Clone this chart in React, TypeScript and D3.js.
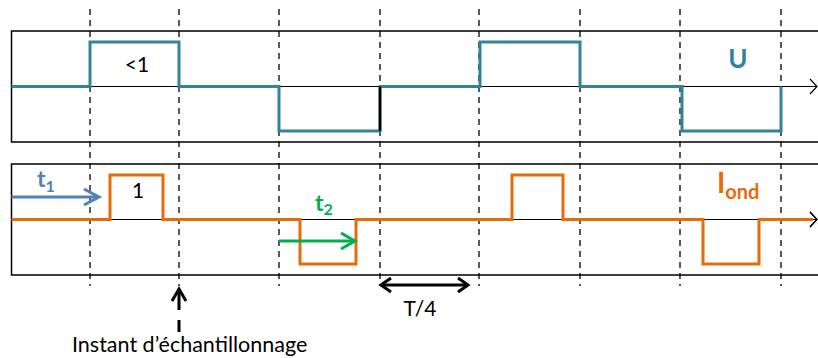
import React from "react";
import * as d3 from "d3";

// time in quarter-period-ish units (x = 100 px per unit)
const sampleTimes = [0.9, 1.79, 2.79, 3.8, 4.79, 5.8, 6.8, 7.81];

const uSteps = [
  { t: 0.115, v: 0 }, { t: 0.9, v: 1 }, { t: 1.79, v: 0 }, { t: 2.79, v: -1 },
  { t: 3.8, v: 0 }, { t: 4.8, v: 1 }, { t: 5.8, v: 0 }, { t: 6.82, v: -1 }, { t: 7.81, v: 0 },
];

const iSteps = [
  { t: 0.115, v: 0 }, { t: 1.1, v: 1 }, { t: 1.63, v: 0 }, { t: 3.0, v: -1 },
  { t: 3.56, v: 0 }, { t: 5.12, v: 1 }, { t: 5.63, v: 0 }, { t: 7.03, v: -1 },
  { t: 7.59, v: 0 }, { t: 8.13, v: 0 },
];

const t1Span = [0.115, 0.99];
const t2Span = [2.79, 3.55];
const quarterSpan = [3.81, 4.68];

const W = 818;
const H = 358;
const TEAL = "#31849b";
const ORANGE = "#e46c0a";
const BLUE = "#4f81bd";
const GREEN = "#00b050";
const FONT = "Lato, 'Open Sans', sans-serif";

const x = d3.scaleLinear().domain([0, 8.18]).range([0, W]);
const yTop = d3.scaleLinear().domain([-1.25, 1.25]).range([142, 31]);
const yBot = d3.scaleLinear().domain([-1.25, 1.25]).range([275, 164]);

const stepLine = (y: d3.ScaleLinear<number, number>) =>
  d3.line<{ t: number; v: number }>().x(d => x(d.t)).y(d => y(d.v)).curve(d3.curveStepAfter);

const chevron = (tipX: number, tipY: number, dx: number, dy: number) =>
  `M${tipX - dx},${tipY - dy}L${tipX},${tipY}L${tipX - dx},${tipY + dy}`;

const Panel = ({ y }: { y: d3.ScaleLinear<number, number> }) => {
  const x0 = x(0.115);
  return (
    <g>
      <path d={`M${W},${y(1.25)}H${x0}V${y(-1.25)}H${W}`} fill="none" stroke="#000" strokeWidth={1.5} />
      <line x1={x0} x2={W - 1} y1={y(0)} y2={y(0)} stroke="#000" strokeWidth={1} />
      <path d={chevron(W - 1, y(0), 7, 7.5)} fill="none" stroke="#000" strokeWidth={1.2} />
    </g>
  );
};

export default function App() {
  return (
    <svg width={W} height={H} style={{ position: "absolute", left: 0, top: 0, background: "#fff" }}>
      <Panel y={yTop} />
      <Panel y={yBot} />

      {sampleTimes.map(t => (
        <line key={t} x1={x(t)} x2={x(t)} y1={9} y2={286} stroke="#000" strokeWidth={1.3} strokeDasharray="6,5" />
      ))}

      <path d={stepLine(yTop)(uSteps) ?? ""} fill="none" stroke={TEAL} strokeWidth={3} />
      <line x1={x(3.8)} x2={x(3.8)} y1={yTop(0)} y2={yTop(-1)} stroke="#000" strokeWidth={2.5} />
      <path d={stepLine(yBot)(iSteps) ?? ""} fill="none" stroke={ORANGE} strokeWidth={3} />
      <path d={chevron(W - 1, yBot(0), 7, 7.5)} fill="none" stroke="#000" strokeWidth={1.2} />

      <text x={137} y={72} textAnchor="middle" fontFamily={FONT} fontSize={21}>&lt;1</text>
      <text x={138} y={198} textAnchor="middle" fontFamily={FONT} fontSize={21}>1</text>
      <text x={738} y={68} textAnchor="middle" fontFamily={FONT} fontSize={26} fontWeight="bold" fill={TEAL}>U</text>
      <text x={717} y={193} fontFamily={FONT} fontWeight="bold" fill={ORANGE}>
        <tspan fontSize={28}>I</tspan>
        <tspan fontSize={20} dy={6}>ond</tspan>
      </text>

      {/* t1 */}
      <line x1={x(t1Span[0])} x2={x(t1Span[1]) - 1} y1={197} y2={197} stroke={BLUE} strokeWidth={3} />
      <path d={chevron(x(t1Span[1]), 197, 15, 8)} fill="none" stroke={BLUE} strokeWidth={3} />
      <text x={37} y={187} fontFamily={FONT} fontWeight="bold" fill={BLUE}>
        <tspan fontSize={23}>t</tspan>
        <tspan fontSize={16} dy={5}>1</tspan>
      </text>

      {/* t2 */}
      <line x1={x(t2Span[0])} x2={x(t2Span[1]) - 1} y1={241} y2={241} stroke={GREEN} strokeWidth={3} />
      <path d={chevron(x(t2Span[1]), 241, 14, 8)} fill="none" stroke={GREEN} strokeWidth={3} />
      <text x={315} y={211} fontFamily={FONT} fontWeight="bold" fill={GREEN}>
        <tspan fontSize={23}>t</tspan>
        <tspan fontSize={16} dy={4}>2</tspan>
      </text>

      {/* T/4 */}
      <line x1={x(quarterSpan[0]) + 1} x2={x(quarterSpan[1]) - 1} y1={285} y2={285} stroke="#000" strokeWidth={3} />
      <path d={chevron(x(quarterSpan[1]), 285, 10, 7)} fill="none" stroke="#000" strokeWidth={3} />
      <path d={`M${x(quarterSpan[0]) + 10},278L${x(quarterSpan[0])},285L${x(quarterSpan[0]) + 10},292`} fill="none" stroke="#000" strokeWidth={3} />
      <text x={420} y={316} textAnchor="middle" fontFamily={FONT} fontSize={21}>T/4</text>

      {/* sampling instant */}
      <path d={`M${x(1.79) - 7},301L${x(1.79)},289L${x(1.79) + 7},301`} fill="none" stroke="#000" strokeWidth={3} />
      <path d={`M${x(1.79)},290V310M${x(1.79)},320V332`} fill="none" stroke="#000" strokeWidth={3} />
      <text x={72} y={352} fontFamily={FONT} fontSize={21.5}>Instant d’échantillonnage</text>
    </svg>
  );
}
